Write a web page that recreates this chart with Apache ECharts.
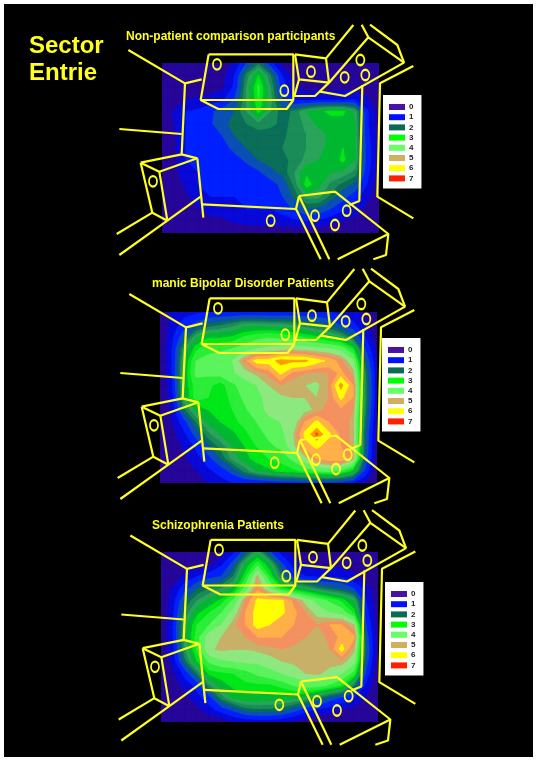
<!DOCTYPE html>
<html>
<head>
<meta charset="utf-8">
<style>
html,body{margin:0;padding:0;background:#fff;}
#stage{width:537px;height:762px;}
</style>
<script src="https://cdn.jsdelivr.net/npm/echarts@6/dist/echarts.min.js"></script>
</head>
<body>
<div id="stage"></div>
<script>
'use strict';

const myChart = echarts.init(document.getElementById('stage'), null, {renderer: 'canvas'});

const PANEL_TITLES = ['Non-patient comparison participants', 'manic Bipolar Disorder Patients', 'Schizophrenia Patients'];
const LEGEND_NAMES = ['0', '1', '2', '3', '4', '5', '6', '7'];
const LEGEND_COLORS = ['#4a12a0', '#0010ff', '#0a6a58', '#00ff00', '#66ff66', '#d0b060', '#ffff00', '#ff2000'];

// contour bands: lower limit of the band and its colour
const BAND_LIMITS = [0.5, 1, 1.5, 2, 2.3, 2.6, 2.9, 3.3, 3.6, 4, 4.5, 5, 5.3, 5.6, 6, 6.5, 6.8];
const BAND_COLORS = ['#0808d8', '#0020ff', '#0a50b4', '#0a6e58', '#1a8c58', '#2aa45a', '#00b830', '#00e818', '#2cee38', '#5cf45c', '#8ee880', '#c8b068', '#f59060', '#ffb048', '#ffff00', '#ff9a00', '#e85a00'];
const BASE_COLOR = '#26069a';

// values read at each node of the floor plan (rows front to back)
const control = [
  [0,0,0,0,0,0,.6,1.5,2.2,1.2,.3,0,0,0,0,0,0,0,0],
  [0,0,0,0,0,.3,1,2.4,3.3,2.3,1,.2,.1,.1,.1,.1,.1,0,0],
  [0,0,0,.1,.2,.4,1.1,2.6,3.7,2.6,1.2,.5,.3,.3,.3,.3,.3,.2,0],
  [0,0,.5,.6,.7,.9,1.5,2.6,3.6,2.7,1.5,.9,.8,.9,.9,.9,1,.6,0],
  [0,.6,1,1.1,1.4,1.7,2,2.6,3.4,2.6,2.1,2.4,2.9,3.2,3.4,3.4,2.8,1.1,.2],
  [0,.5,1,1,1.4,1.9,2.1,2.3,2.5,2.4,2.2,2.4,2.7,3,3.1,3.1,2.9,1.1,.2],
  [0,.4,1,1,1.1,1.5,2,2.1,2.1,2.1,2.2,2.5,2.6,2.7,3,3.1,2.9,1.2,.3],
  [0,.4,1,1,1,1.2,1.7,2,2.1,2.1,2.3,2.5,2.6,2.8,3,3.3,2.9,1.3,.3],
  [0,.3,1,1,1,1,1.2,1.6,2,2.1,2.2,2.4,2.7,2.9,3,3.4,2.9,1.3,.3],
  [0,.3,.9,1,1,1,1,1.2,1.4,1.9,2.1,2.6,3.2,3,2.9,2.8,2.5,1.2,.2],
  [0,.2,.6,1,1,1,1,1,1,1.2,1.7,2.4,3.5,3,2.5,2.2,1.9,1,.1],
  [0,.1,.4,.8,1,1,1,1,1,1.1,1.5,2.1,2.7,2.7,2.2,1.7,1.2,.7,0],
  [0,0,.2,.5,.8,.7,.9,1,1,1,1.2,1.6,2,1.9,1.5,1.1,.8,.3,0],
  [0,0,0,.1,.3,.4,.6,.7,.8,.8,.8,.9,1,.9,.7,.5,.3,0,0],
  [0,0,0,0,0,0,0,0,0,0,0,0,0,0,0,0,0,0,0]
];
const bipolar = [
  [0,.6,.8,.9,1,1,1,1,1,1,1,1,1,1,1,.9,.7,.3,0],
  [0,.7,1.2,1.6,2,2.2,2.4,2.7,2.7,2.6,2.6,2.5,2.3,2.1,1.9,1.4,1.1,.6,0],
  [0,.9,1.8,2.8,3.2,3.2,3.3,3.6,3.8,3.9,3.8,3.7,3.5,3.3,3,2.7,2,1,.2],
  [0,1,2.6,3.5,3.9,3.9,4,4.2,4.5,4.6,4.7,4.8,4.7,4.6,4.5,4.3,3.5,1.5,.4],
  [0,1,2.9,4,4.1,4.3,4.5,5.4,6.2,6.2,6.7,6.6,6.6,6.2,5.9,5.4,4.6,2,.5],
  [0,1,3,4.1,4.1,4.2,4.4,4.8,5.1,5.4,6.1,5.5,5.3,5.2,5.3,5.7,5.2,2.4,.6],
  [0,.9,3,3.8,3.7,3.4,3.9,4.2,4.5,5,5.3,5.1,5,4.9,5.3,6.7,5.6,2.5,.6],
  [0,.8,2.9,3.8,3.6,3.4,3.7,4.1,4.3,4.7,4.9,5,5,5,5.3,6.1,5.6,2.5,.6],
  [0,.6,2.2,3,3.3,3.4,3.6,3.9,4.3,4.6,4.7,4.8,4.8,5.1,5.5,5.5,5.3,2.4,.5],
  [0,.5,1.3,2.3,3,3.3,3.5,3.7,4,4.4,4.5,4.6,5.6,6.1,5.6,5.5,5.2,2.2,.4],
  [0,.3,.9,1.7,2.5,2.9,3.2,3.5,3.8,4.1,4.3,4.9,6.1,6.9,6.1,5.5,5.2,2,.3],
  [0,.1,.6,1.1,1.9,2.4,2.9,3.3,3.6,3.9,4.1,4.8,5.8,6.1,5.8,5.6,5.2,2,.2],
  [0,0,.4,.8,1.3,2,2.7,3.1,3.5,3.6,3.7,4.1,4.8,5.6,5.9,6,5.2,1.9,.1],
  [0,0,.2,.5,.9,1.2,1.7,2.4,2.9,3.2,3.4,3.5,3.7,4,4.1,3.9,3.2,1.4,0],
  [0,0,0,.2,.5,.8,1,1,1,1.1,1.2,1.2,1.3,1.3,1.3,1.2,1,.5,0]
];
const schizo = [
  [0,0,0,0,0,.3,.9,1.8,2.8,1.6,.8,.2,0,0,0,0,0,0,0],
  [0,0,.1,.2,.3,.9,1.7,3,3.8,3,1.6,.8,.5,.4,.4,.3,.2,.1,0],
  [0,0,.7,1,1.3,1.5,2.3,3.5,5.1,3.6,2.3,1.3,1,.9,.9,.9,.6,.2,0],
  [0,.6,1.3,2,2.3,2.6,3,4.2,5.5,4.5,3.5,3.1,2.8,2.4,2.1,1.9,1.5,.8,0],
  [0,.8,2,2.6,3,3.4,4.1,5.3,6.1,6.1,6.1,5.5,4.8,4.3,3.9,3.5,2.9,1,.1],
  [0,.9,2.4,3.2,3.6,4,4.7,5.6,6.2,6.2,6.1,5.7,5.3,4.8,4.5,4.3,3.5,1.2,.2],
  [0,1,2.8,3.6,4,4.5,5.2,5.6,6.2,6,5.7,5.6,5.5,5.3,5.6,5.6,5,1.5,.2],
  [0,1,2.8,3.8,4.8,5,5.1,5.3,5.6,5.6,5.6,5.5,5.3,5.1,5.4,5.7,5.7,1.8,.2],
  [0,.9,2.6,3.7,4.9,5.1,5,5,5.1,5.2,5.3,5.2,5.2,5.2,5.3,6.2,5.1,2,.2],
  [0,.7,2.2,3.3,4.1,4.4,4.5,4.6,4.6,4.8,5,5.1,5.1,5.2,5.2,5.2,4.7,1.8,.1],
  [0,.4,1.2,2.3,3.4,3.5,3.6,3.8,4.1,4.3,4.5,4.7,5,5.1,4.8,4.5,3.8,1.4,0],
  [0,.2,.7,1.2,2.5,3.1,3.4,3.5,3.5,3.5,3.7,4,4.2,4.2,3.9,3.5,2.3,.9,0],
  [0,0,.3,.8,1.3,2.4,3,3.2,3.2,3.1,3.1,3,2.8,2.3,1.8,1.4,1,.5,0],
  [0,0,0,.3,.8,1.2,1.6,2.1,2.2,2.2,2.1,1.7,1.2,.9,.7,.5,.3,.1,0],
  [0,0,0,0,0,.2,.5,.6,.7,.7,.6,.4,.2,0,0,0,0,0,0]
];

// room outline, same for the three panels
const ROOM_LINES = [
  [[55,90],[225,190],[275,178]],
  [[225,190],[215,403]],
  [[28,327],[215,342]],
  [[296,103],[550,103],[550,240],[272,240],[296,103]],
  [[272,240],[325,267],[530,267],[550,240]],
  [[555,103],[648,115],[657,188],[567,178],[555,103]],
  [[567,178],[553,228],[615,228],[657,188]],
  [[648,115],[730,15]],
  [[657,188],[775,52],[882,128],[705,228],[630,215]],
  [[775,52],[755,14]],
  [[780,14],[862,75],[882,128]],
  [[910,138],[810,190],[802,530],[910,595]],
  [[757,195],[748,543],[718,555]],
  [[567,528],[675,515],[835,642],[828,705],[790,718]],
  [[835,642],[683,718]],
  [[567,528],[558,567],[632,718]],
  [[567,528],[658,718]],
  [[278,553],[558,567]],
  [[262,415],[280,593]],
  [[92,428],[215,403],[262,415],[148,455],[92,428]],
  [[92,428],[127,578],[172,602],[148,455]],
  [[172,602],[272,530]],
  [[127,578],[20,642]],
  [[172,602],[28,705]]
];
const SENSOR_MARKS = [[321,133],[523,212],[603,155],[751,120],[704,172],[766,165],[129,484],[615,587],[710,572],[675,615]];
const EXTRA_MARK = [[482,602],[491,596],[502,598]];

const matrices = [control, bipolar, schizo];
const heatBoxes = [
  {left: 162, top: 63, width: 217, height: 170},
  {left: 160, top: 312, width: 217, height: 171},
  {left: 161, top: 552, width: 217, height: 170}
];
const roomBoxes = [
  {left: 110, top: 20, width: 320, height: 245},
  {left: 111, top: 264, width: 320, height: 245},
  {left: 112, top: 505.5, width: 320, height: 245}
];
const legendBoxes = [
  {left: 383, top: 95},
  {left: 382, top: 338},
  {left: 385, top: 582}
];
const titleBoxes = [
  {left: 126, top: 31},
  {left: 152, top: 278},
  {left: 152, top: 520}
];

// clip one cell to the part where value >= limit (corner values linear along the edges)
function clipCell(corners, limit) {
  let out = [];
  for (let i = 0; i < corners.length; i++) {
    const a = corners[i];
    const b = corners[(i + 1) % corners.length];
    if (a[2] >= limit) out.push([a[0], a[1]]);
    if ((a[2] >= limit) !== (b[2] >= limit)) {
      const t = (limit - a[2]) / (b[2] - a[2]);
      out.push([a[0] + (b[0] - a[0]) * t, a[1] + (b[1] - a[1]) * t]);
    }
  }
  return out;
}

// one data item per band, bands are painted from the lowest up so seams stay hidden
function bandRenderer(matrix) {
  return function (params, api) {
    const band = api.value(2);
    const limit = band < 0 ? -1 : BAND_LIMITS[band];
    const color = band < 0 ? BASE_COLOR : BAND_COLORS[band];
    const children = [];
    for (let j = 0; j < matrix.length - 1; j++) {
      for (let i = 0; i < matrix[j].length - 1; i++) {
        const corners = [
          [i, j, matrix[j][i]],
          [i + 1, j, matrix[j][i + 1]],
          [i + 1, j + 1, matrix[j + 1][i + 1]],
          [i, j + 1, matrix[j + 1][i]]
        ];
        const pts = clipCell(corners, limit);
        if (pts.length < 3) continue;
        children.push({
          type: 'polygon',
          shape: {points: pts.map(p => api.coord(p))},
          style: {fill: color, stroke: color, lineWidth: 0.7}
        });
      }
    }
    return {type: 'group', children: children};
  };
}

let grids = [];
let xAxes = [];
let yAxes = [];
let series = [];
let legends = [];
let titles = [{
  text: 'Sector\nEntrie',
  left: 29,
  top: 33,
  padding: 0,
  textStyle: {color: '#ffff20', fontFamily: 'Liberation Sans', fontWeight: 'bold', fontSize: 24, lineHeight: 27}
}];

for (let p = 0; p < 3; p++) {
  // grid for the contour values
  grids.push(heatBoxes[p]);
  xAxes.push({gridIndex: grids.length - 1, type: 'value', min: 0, max: matrices[p][0].length - 1, show: false});
  yAxes.push({gridIndex: grids.length - 1, type: 'value', min: 0, max: matrices[p].length - 1, inverse: true, show: false});
  series.push({
    type: 'custom',
    xAxisIndex: grids.length - 1,
    yAxisIndex: grids.length - 1,
    renderItem: bandRenderer(matrices[p]),
    encode: {x: 0, y: 1},
    data: [-1].concat(BAND_LIMITS.map((l, b) => b)).map(b => [0, 0, b]),
    clip: true,
    silent: true,
    animation: false,
    z: 2
  });

  // grid for the room drawing
  grids.push(roomBoxes[p]);
  xAxes.push({gridIndex: grids.length - 1, type: 'value', min: 0, max: 960, show: false});
  yAxes.push({gridIndex: grids.length - 1, type: 'value', min: 0, max: 735, inverse: true, show: false});
  for (const line of ROOM_LINES) {
    series.push({
      type: 'line',
      xAxisIndex: grids.length - 1,
      yAxisIndex: grids.length - 1,
      data: line,
      symbol: 'none',
      lineStyle: {color: '#ffff20', width: 2.2},
      silent: true,
      animation: false,
      z: 3
    });
  }
  series.push({
    type: 'scatter',
    xAxisIndex: grids.length - 1,
    yAxisIndex: grids.length - 1,
    data: SENSOR_MARKS.concat([EXTRA_MARK[p]]),
    symbol: 'circle',
    symbolSize: [8, 10.5],
    itemStyle: {color: 'rgba(0,0,0,0)', borderColor: '#ffff20', borderWidth: 2, opacity: 1},
    silent: true,
    animation: false,
    z: 4
  });

  titles.push({
    text: PANEL_TITLES[p],
    left: titleBoxes[p].left,
    top: titleBoxes[p].top,
    padding: 0,
    textStyle: {color: '#ffff20', fontFamily: 'Liberation Sans', fontWeight: 'bold', fontSize: 12}
  });
  legends.push({
    left: legendBoxes[p].left,
    top: legendBoxes[p].top,
    orient: 'vertical',
    data: LEGEND_NAMES,
    icon: 'rect',
    selectedMode: false,
    backgroundColor: '#fff',
    padding: [8, 8, 6, 6],
    itemWidth: 16,
    itemHeight: 6,
    itemGap: 2.2,
    textStyle: {color: '#222', fontFamily: 'Liberation Sans', fontWeight: 'bold', fontSize: 8, padding: [0, 0, 0, -1]}
  });
}

// empty series so the legends have their colours
for (let k = 0; k < LEGEND_NAMES.length; k++) {
  series.push({
    name: LEGEND_NAMES[k],
    type: 'line',
    data: [],
    itemStyle: {color: LEGEND_COLORS[k]},
    lineStyle: {color: LEGEND_COLORS[k]}
  });
}

const option = {
  backgroundColor: '#fff',
  animation: false,
  graphic: [{type: 'rect', shape: {x: 4, y: 4, width: 529, height: 753}, style: {fill: '#000'}, silent: true, z: -1}],
  title: titles,
  legend: legends,
  grid: grids,
  xAxis: xAxes,
  yAxis: yAxes,
  series: series
};

myChart.setOption(option);
</script>
</body>
</html>
